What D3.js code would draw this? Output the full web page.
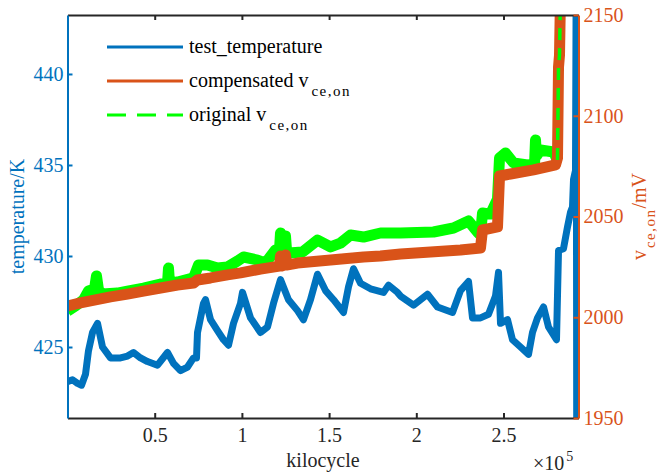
<!DOCTYPE html>
<html>
<head>
<meta charset="utf-8">
<script src="https://cdn.jsdelivr.net/npm/d3@7/dist/d3.min.js"></script>
</head>
<body style="margin:0;background:#fff">
<svg id="chart" width="657" height="473" style="display:block"></svg>
<script>
// ---- data (x in kilocycles) ----
const tempCycles = [0, 2870, 5730, 8030, 10320, 12040, 14340, 17200, 20070, 24660, 30390, 34400, 37840, 41860,
  45870, 51610, 57340, 60780, 64790, 68810, 72250, 73970, 74540, 77980, 79130, 82000, 86010, 89450, 92320,
  95180, 99200, 100340, 104930, 110670, 114680, 118120, 122130, 126720, 131880, 135320, 139340, 143350,
  147940, 152520, 158260, 161120, 163990, 168010, 173740, 181190, 184060, 189220, 190940, 198390, 206420,
  212160, 220760, 225340, 229930, 232230, 236810, 241400, 245410, 247130, 248280, 252290, 255160, 259750,
  264340, 266630, 269500, 272940, 275800, 280390, 281540, 284400, 286700, 288420, 289560, 290140, 291280,
  291700, 292000];
const tempValues = [423.1, 423.2, 423.0, 422.9, 423.5, 424.8, 425.8, 426.3, 425.0, 424.4, 424.4, 424.5, 424.7, 424.4,
  424.2, 424.0, 424.7, 424.1, 423.7, 423.9, 424.4, 424.4, 425.8, 427.4, 427.6, 426.5, 425.9, 425.4, 425.1,
  426.3, 427.4, 428.0, 426.6, 425.8, 426.1, 427.4, 428.7, 427.6, 427.0, 426.5, 427.6, 429.0,
  428.1, 427.6, 426.9, 428.3, 429.3, 428.5, 428.2, 428.0, 428.4, 428.0, 427.8, 427.3, 427.9,
  427.2, 426.9, 428.1, 428.6, 426.6, 426.6, 426.8, 427.8, 429.1, 426.3, 426.5, 425.4, 425.0,
  424.6, 425.8, 426.6, 427.2, 426.1, 425.4, 430.3, 430.4, 431.6, 432.4, 432.7, 434.2, 434.7,
  446, 418];

const compCycles = [0, 7450, 13190, 24660, 34400, 43580, 53330, 63070, 72250, 74540, 82000, 91740, 99200, 110670,
  121560, 122130, 122710, 124430, 125000, 125570, 131880, 150800, 169730, 179470, 190940, 208140, 225340,
  236810, 237960, 246560, 247710, 254010, 267200, 279820, 280960, 281540, 282110, 282680];
const compValues = [2005.6, 2007.1, 2008.1, 2010.1, 2011.5, 2013.0, 2014.5, 2016.0, 2017.0, 2018.5, 2019.5, 2021.0, 2022.0, 2023.9,
  2025.4, 2030.4, 2025.4, 2025.9, 2030.9, 2025.9, 2026.9, 2028.4, 2029.9, 2030.4, 2031.4, 2032.4, 2033.4,
  2034.4, 2043.3, 2044.8, 2070.1, 2071.1, 2073.1, 2075.6, 2079.0, 2124.2, 2130.1, 2160];

const origCycles = [0, 4590, 9170, 12040, 15480, 16630, 17780, 20070, 28670, 34400, 43580, 53330, 57340, 57910,
  58490, 63070, 72250, 75120, 80280, 86010, 91740, 97480, 100920, 108950, 113530, 119270, 121560, 122130,
  122710, 124430, 125000, 125570, 126720, 134750, 143350, 150800, 156540, 162270, 169730, 179470, 190940,
  209860, 221330, 229930, 235090, 236810, 237960, 242550, 246560, 247710, 251150, 255730, 263760, 267800,
  268350, 268900, 271220, 278670, 280960, 281540, 282110, 282680];
const origValues = [2003.1, 2005.6, 2008.6, 2013.0, 2014.0, 2020.5, 2013.5, 2011.5, 2012.0, 2013.0, 2014.5, 2016.5, 2017.0, 2024.4,
  2017.0, 2017.5, 2019.5, 2025.9, 2025.9, 2024.4, 2024.9, 2027.9, 2029.9, 2028.4, 2026.9, 2033.4, 2033.4, 2041.8,
  2033.4, 2033.4, 2040.3, 2033.4, 2031.9, 2032.4, 2038.3, 2034.9, 2036.8, 2040.8, 2039.8, 2041.8, 2041.8,
  2042.3, 2044.3, 2047.8, 2042.3, 2040.8, 2051.7, 2051.2, 2058.7, 2079.0, 2081.5, 2076.6, 2075.6, 2076.0,
  2088.0, 2080.0, 2083.0, 2082.0, 2078.0, 2124.2, 2130.1, 2160];
const origJumpFrom = 280960; // the final rise, where the dashes show

const xTicks = [50000, 100000, 150000, 200000, 250000];
const tempTicks = [425, 430, 435, 440];
const vceTicks = [1950, 2000, 2050, 2100, 2150];

const legendNames = ['test_temperature', 'compensated v', 'original v'];

// ---- setup ----
const blue = '#0072BD', orange = '#D95319', green = '#00FF00', axisGrey = '#262626';
const serif = '"Liberation Serif", serif';
const plot = { left: 67.5, right: 578.5, top: 15, bottom: 418 };
const svg = d3.select('#chart').style('font-family', serif);

const x = d3.scaleLinear().domain([0, 293000]).range([plot.left, plot.right]);
const yT = d3.scaleLinear().domain([421.1, 443.24]).range([plot.bottom, plot.top]);
const yV = d3.scaleLinear().domain([1950, 2150]).range([plot.bottom, plot.top]);

svg.append('defs').append('clipPath').attr('id', 'clip')
  .append('rect')
  .attr('x', plot.left).attr('y', plot.top)
  .attr('width', plot.right - plot.left).attr('height', plot.bottom - plot.top);

const zip = (xs, ys) => xs.map((v, i) => [v, ys[i]]);
const lineT = d3.line().x(d => x(d[0])).y(d => yT(d[1]));
const lineV = d3.line().x(d => x(d[0])).y(d => yV(d[1]));

const series = svg.append('g').attr('clip-path', 'url(#clip)')
  .attr('fill', 'none').attr('stroke-linejoin', 'round');

const orig = zip(origCycles, origValues);
// dense noisy band of the original trace
series.append('path')
  .attr('d', lineV(orig.filter(d => d[0] <= origJumpFrom)))
  .attr('stroke', green).attr('stroke-width', 11);

series.append('path')
  .attr('d', lineV(zip(compCycles, compValues)))
  .attr('stroke', orange).attr('stroke-width', 11);

// the final rise is where the dashes of the original trace are visible
series.append('path')
  .attr('d', lineV(orig.filter(d => d[0] >= origJumpFrom)))
  .attr('stroke', green).attr('stroke-width', 3.5).attr('stroke-dasharray', '12,8');

series.append('path')
  .attr('d', lineT(zip(tempCycles, tempValues)))
  .attr('stroke', blue).attr('stroke-width', 7);

// ---- axes ----
const styleAxis = (g, color) =>
{
  g.style('font-family', serif)
    .attr('font-size', 20)
    .attr('color', color);
  g.selectAll('text').style('font-family', serif);
  g.selectAll('.domain').attr('stroke-width', 2);
  g.selectAll('.tick line').attr('stroke-width', 2);
};

svg.append('g')
  .attr('transform', `translate(0,${ plot.bottom })`)
  .call(d3.axisBottom(x).tickValues(xTicks).tickFormat(d => d / 1e5)
    .tickSizeInner(-5).tickSizeOuter(0).tickPadding(10))
  .call(g => styleAxis(g, axisGrey));

svg.append('g')
  .attr('transform', `translate(0,${ plot.top })`)
  .call(d3.axisTop(x).tickValues(xTicks).tickFormat('')
    .tickSizeInner(-5).tickSizeOuter(0))
  .call(g => styleAxis(g, axisGrey));

svg.append('g')
  .attr('transform', `translate(${ plot.left },0)`)
  .call(d3.axisLeft(yT).tickValues(tempTicks).tickFormat(d => String(d))
    .tickSizeInner(-5).tickSizeOuter(0).tickPadding(4))
  .call(g => styleAxis(g, blue));

svg.append('g')
  .attr('transform', `translate(${ plot.right },0)`)
  .call(d3.axisRight(yV).tickValues(vceTicks).tickFormat(d => String(d))
    .tickSizeInner(-5).tickSizeOuter(0).tickPadding(5))
  .call(g => styleAxis(g, orange));

// ---- axis titles ----
svg.append('text')
  .attr('x', (plot.left + plot.right) / 2).attr('y', 467)
  .attr('text-anchor', 'middle').attr('font-size', 20).attr('fill', axisGrey)
  .style('font-family', serif)
  .text('kilocycle');

const mult = svg.append('text')
  .attr('x', 533).attr('y', 470).attr('font-size', 20).attr('fill', axisGrey)
  .style('font-family', serif);
mult.append('tspan').text('\u00d710');
mult.append('tspan').attr('dx', 2).attr('dy', -9).attr('font-size', 14).text('5');

svg.append('text')
  .attr('transform', `translate(24,${ (plot.top + plot.bottom) / 2 }) rotate(-90)`)
  .attr('text-anchor', 'middle').attr('font-size', 20).attr('fill', blue)
  .style('font-family', serif)
  .text('temperature/K');

const vLabel = svg.append('text')
  .attr('transform', `translate(646,${ (plot.top + plot.bottom) / 2 }) rotate(-90)`)
  .attr('text-anchor', 'middle').attr('font-size', 20).attr('fill', orange)
  .style('font-family', serif);
vLabel.append('tspan').text('v');
vLabel.append('tspan').attr('dx', 2).attr('dy', 9).attr('font-size', 15).attr('letter-spacing', 1.5).text('ce,on');
vLabel.append('tspan').attr('dy', -9).text('/mV');

// ---- legend ----
const legendColors = [blue, orange, green];
const legendDash = [null, null, '19,11'];
const legend = svg.append('g');
legendNames.forEach((name, i) =>
{
  const ly = 47 + i * 34;
  legend.append('line')
    .attr('x1', 107).attr('x2', 183).attr('y1', ly).attr('y2', ly)
    .attr('stroke', legendColors[i]).attr('stroke-width', 3)
    .attr('stroke-dasharray', legendDash[i]);
  const t = legend.append('text')
    .attr('x', 189).attr('y', ly + 6).attr('font-size', 20).attr('fill', '#000')
    .style('font-family', serif);
  t.append('tspan').text(name);
  if (i > 0)
  {
    t.append('tspan').attr('dx', 3).attr('dy', 9).attr('font-size', 15)
      .attr('letter-spacing', 1.5).text('ce,on');
  }
});
</script>
</body>
</html>
